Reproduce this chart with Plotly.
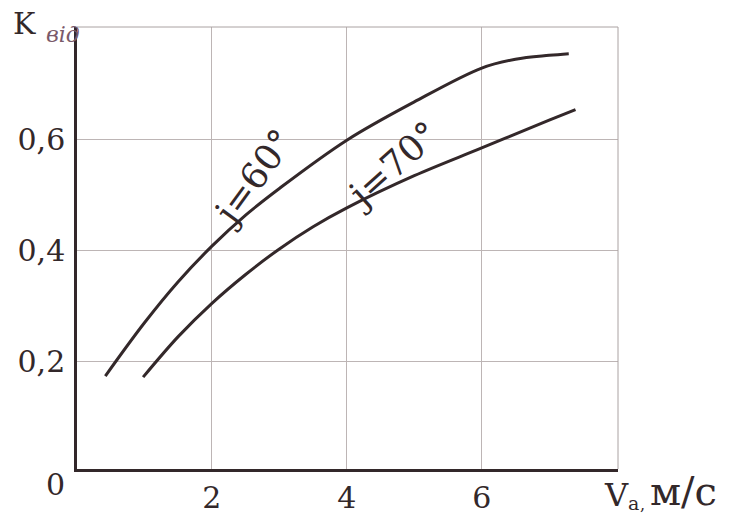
import plotly.graph_objects as go

# Speed V_a (m/s) and coefficient K_від for two angles j
v_j60 = [0.42, 1.0, 1.5, 2.0, 2.5, 3.0, 4.0, 5.0, 6.0, 6.5, 7.0, 7.29]
k_j60 = [0.173, 0.269, 0.343, 0.407, 0.463, 0.511, 0.598, 0.667, 0.728, 0.744, 0.751, 0.754]

v_j70 = [0.98, 1.5, 2.0, 2.5, 3.0, 3.5, 4.0, 5.0, 6.0, 7.0, 7.39]
k_j70 = [0.171, 0.244, 0.304, 0.356, 0.402, 0.442, 0.476, 0.534, 0.584, 0.634, 0.653]

x_ticks = [2, 4, 6]
x_labels = ["2", "4", "6"]
y_ticks = [0.2, 0.4, 0.6]
y_labels = ["0,2", "0,4", "0,6"]

INK = "#33282a"
GRID = "#bdb5b5"
SERIF = "DejaVu Serif"

W, H = 738, 517
L, R, T, B = 77, 120, 27, 48
PW, PH = W - L - R, H - T - B


def px(p):
    return (p - L) / PW


def py(q):
    return (H - B - q) / PH


fig = go.Figure()
for xs, ys in ((v_j60, k_j60), (v_j70, k_j70)):
    fig.add_trace(go.Scatter(
        x=xs, y=ys, mode="lines",
        line=dict(color=INK, width=3, shape="spline", smoothing=1.0),
        showlegend=False, hoverinfo="skip",
    ))

axis_font = dict(family=SERIF, size=30, color=INK)

fig.update_layout(
    template="none",
    width=W, height=H,
    margin=dict(l=L, r=R, t=T, b=B, pad=0, autoexpand=False),
    paper_bgcolor="white", plot_bgcolor="white",
    xaxis=dict(
        range=[0, 8.02], tickvals=x_ticks, ticktext=x_labels,
        showgrid=True, gridcolor=GRID, gridwidth=1,
        showline=True, linecolor=INK, linewidth=2.5,
        ticks="", tickfont=axis_font, ticklabelstandoff=0,
        zeroline=False, fixedrange=True, automargin=False,
    ),
    yaxis=dict(
        range=[0.0054, 0.802], tickvals=y_ticks, ticktext=y_labels,
        showgrid=True, gridcolor=GRID, gridwidth=1,
        showline=True, linecolor=INK, linewidth=2.5,
        ticks="", tickfont=axis_font, ticklabelstandoff=3,
        zeroline=False, fixedrange=True, automargin=False,
    ),
)

# thin frame on the top and right sides
fig.add_shape(type="line", xref="paper", yref="paper", x0=0, x1=1, y0=1, y1=1,
              line=dict(color="#aaa2a2", width=1))
fig.add_shape(type="line", xref="paper", yref="paper", x0=1, x1=1, y0=0, y1=1,
              line=dict(color="#aaa2a2", width=1))

ann = []
# origin label
ann.append(dict(text="0", xref="paper", yref="paper", x=px(55), y=py(484),
                xanchor="center", yanchor="middle", showarrow=False, font=axis_font))
# y-axis title
ann.append(dict(text="K", xref="paper", yref="paper", x=px(11), y=py(23),
                xanchor="left", yanchor="middle", showarrow=False,
                font=dict(family=SERIF, size=30, color=INK)))
ann.append(dict(text="<i>від</i>", xref="paper", yref="paper", x=px(44), y=py(34),
                xanchor="left", yanchor="middle", showarrow=False,
                font=dict(family=SERIF, size=22, color="#7a5a6a")))
# x-axis title
ann.append(dict(text="V", xref="paper", yref="paper", x=px(602), y=py(516),
                xanchor="left", yanchor="bottom", showarrow=False,
                font=dict(family=SERIF, size=32, color=INK)))
ann.append(dict(text="a", xref="paper", yref="paper", x=px(626), y=py(516),
                xanchor="left", yanchor="bottom", showarrow=False,
                font=dict(family=SERIF, size=19, color=INK)))
ann.append(dict(text=",", xref="paper", yref="paper", x=px(638), y=py(516),
                xanchor="left", yanchor="bottom", showarrow=False,
                font=dict(family=SERIF, size=16, color=INK)))
ann.append(dict(text="м/с", xref="paper", yref="paper", x=px(648), y=py(516),
                xanchor="left", yanchor="bottom", showarrow=False,
                font=dict(family=SERIF, size=40, color=INK)))
# curve labels
ann.append(dict(text="j=60°", x=2.62, y=0.53, xref="x", yref="y",
                textangle=-54, showarrow=False,
                font=dict(family=SERIF, size=36, color=INK)))
ann.append(dict(text="j=70°", x=4.67, y=0.553, xref="x", yref="y",
                textangle=-42, showarrow=False,
                font=dict(family=SERIF, size=36, color=INK)))

fig.update_layout(annotations=ann)

fig.write_html("out.html")
